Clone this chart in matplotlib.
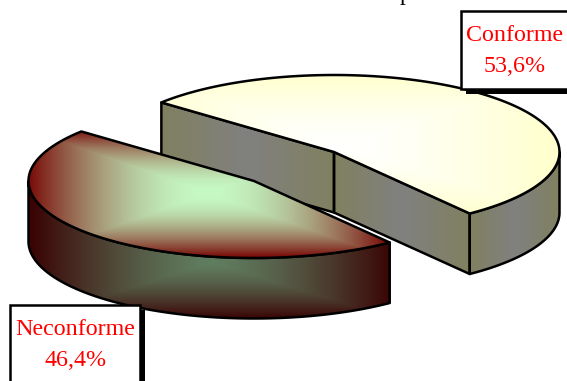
import numpy as np
import matplotlib
matplotlib.use("Agg")
import matplotlib.pyplot as plt
from matplotlib.patches import Polygon, Rectangle

labels = ["Conforme", "Neconforme"]
values = [53.6, 46.4]
value_texts = ["53,6%", "46,4%"]

W, H = 567, 381
fig = plt.figure(figsize=(W / 100, H / 100), dpi=100)
ax = fig.add_axes([0, 0, 1, 1])
ax.set_xlim(0, W)
ax.set_ylim(H, 0)
ax.axis("off")

RX, RY, DEPTH = 225.5, 77, 60.5
START = -53
LW = 1.8
SERIF = "Liberation Serif"

a1_end = START + values[0] / sum(values) * 360
a2_end = a1_end + values[1] / sum(values) * 360


def arc(cx, cy, a0, a1, n=200):
    t = np.radians(np.linspace(a0, a1, n))
    return np.column_stack([cx + RX * np.cos(t), cy - RY * np.sin(t)])


def mix(c0, c1, t):
    c0, c1 = np.array(c0) / 255, np.array(c1) / 255
    return c0 + (c1 - c0) * t[..., None]


def fill(points, func, z):
    pts = np.asarray(points)
    x0, y0 = pts.min(0)
    x1, y1 = pts.max(0)
    xs = np.arange(np.floor(x0), np.ceil(x1) + 1)
    ys = np.arange(np.floor(y0), np.ceil(y1) + 1)
    X, Y = np.meshgrid(xs + 0.5, ys + 0.5)
    im = ax.imshow(func(X, Y), extent=[xs[0], xs[-1] + 1, ys[-1] + 1, ys[0]],
                   zorder=z, interpolation="bilinear", aspect="auto")
    patch = Polygon(pts, closed=True, transform=ax.transData, fc="none", ec="none")
    ax.add_patch(patch)
    im.set_clip_path(patch)
    ax.add_patch(Polygon(pts, closed=True, fc="none", ec="black", lw=LW, zorder=z + 0.5,
                         joinstyle="round"))


def side_band(x0, x1):
    def f(X, Y):
        c = (x0 + x1) / 2
        t = np.clip(np.abs(X - c) / ((x1 - x0) / 2), 0, 1)
        return mix((128, 128, 128), (128, 128, 96), t)
    return f


# Conforme (back slice)
c1 = np.array([334, 152])
p_a = arc(*c1, START, START, 1)[0]
p_b = arc(*c1, a1_end, a1_end, 1)[0]
d = np.array([0, DEPTH])
fill([p_b, c1, c1 + d, p_b + d], side_band(p_b[0], c1[0]), 2)
fill([c1, p_a, p_a + d, c1 + d], side_band(c1[0], p_a[0]), 2)
outer = arc(*c1, START, 0)
fill(np.vstack([outer, (outer + d)[::-1]]), side_band(p_a[0], c1[0] + RX), 2)


def top1(X, Y):
    t = np.maximum(np.abs(X - 345) / 215, np.abs(Y - 145) / 72)
    return mix((255, 255, 255), (255, 255, 204), np.clip(t, 0, 1) ** 1.3)


fill(np.vstack([[c1], arc(*c1, a1_end, START, 300)]), top1, 3)

# Neconforme (front slice)
c2 = np.array([254, 181])


def side2(X, Y):
    t = np.maximum(np.abs(X - 212) / 178, np.abs(Y - 262) / 56)
    return mix((96, 125, 96), (58, 5, 5), np.clip(t, 0, 1) ** 1.4)


outer2 = arc(*c2, 180, a2_end)
fill(np.vstack([outer2, (outer2 + d)[::-1]]), side2, 4)


def top2(X, Y):
    t = np.maximum(np.abs(X - 208) / 180, np.abs(Y - 193) / 64)
    return mix((198, 250, 196), (120, 8, 6), np.clip(t, 0, 1) ** 1.8)


fill(np.vstack([[c2], arc(*c2, a1_end, a2_end, 300)]), top2, 5)


# Data label boxes
def box(x, y, w, h, sx, sy, z=7):
    ax.add_patch(Rectangle((x + sx, y + sy), w, h, fc="black", ec="none", zorder=z,
                           clip_on=True))
    ax.add_patch(Rectangle((x, y), w, h, fc="white", ec="black", lw=LW, zorder=z + 0.1))


box(460.5, 10.5, 130, 78, 5, 5)
box(10, 304.5, 130, 100, 5, 5)

FS = 24 * 72 / 100
for (tx, y1, y2), name, val in zip([(514.5, 41, 72), (75.5, 335, 366)], labels, value_texts):
    ax.text(tx, y1, name, color="red", fontsize=FS, family=SERIF, ha="center", va="baseline", zorder=9)
    ax.text(tx, y2, val, color="red", fontsize=FS, family=SERIF, ha="center", va="baseline", zorder=9)

# Remnant of the cropped title
ax.text(405.5, 0, "p", color="black", fontsize=FS, family=SERIF, ha="center", va="baseline", zorder=9,
        clip_on=False)

ax.set_xlim(0, W)
ax.set_ylim(H, 0)
fig.savefig("out.png", dpi=100, facecolor="white")
